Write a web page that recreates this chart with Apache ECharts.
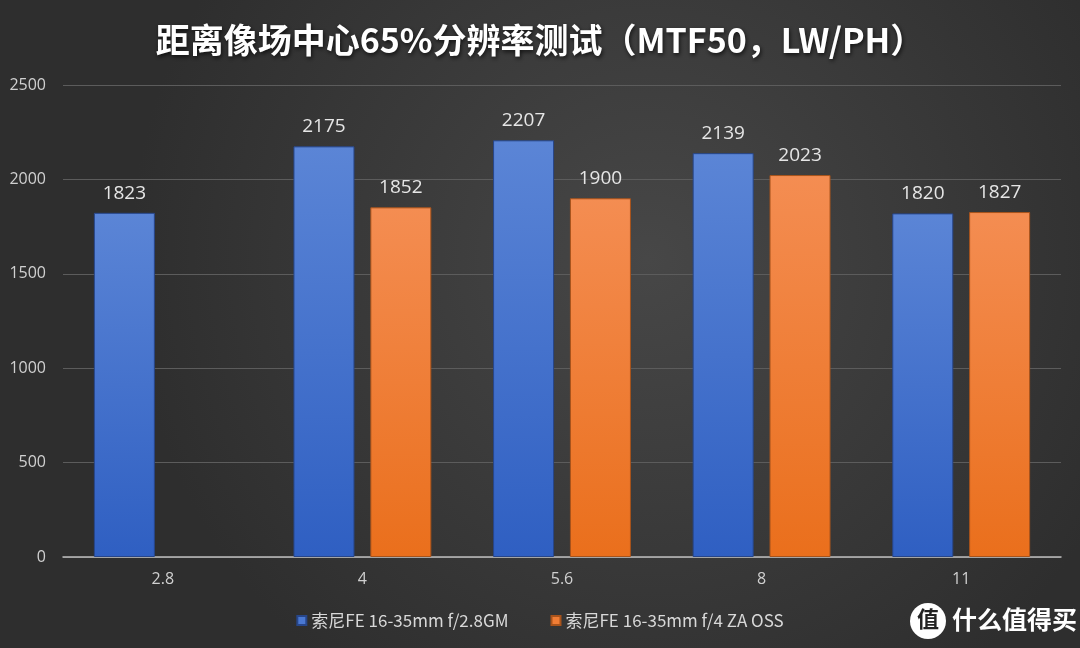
<!DOCTYPE html>
<html>
<head>
<meta charset="utf-8">
<script src="https://cdn.jsdelivr.net/npm/echarts@6/dist/echarts.min.js"></script>
<style>html,body{margin:0;padding:0;background:#3a3a3a}#c{width:1080px;height:648px}</style>
</head>
<body>
<div id="c"></div>
<script>
const titleText = '距离像场中心65%分辨率测试（MTF50，LW/PH）';
const categories = ['2.8', '4', '5.6', '8', '11'];
const seriesNames = ['索尼FE 16-35mm f/2.8GM', '索尼FE 16-35mm f/4 ZA OSS'];
const gmValues = [1823, 2175, 2207, 2139, 1820];
const zaValues = [null, 1852, 1900, 2023, 1827];
const yTicks = [0, 500, 1000, 1500, 2000, 2500];

const chart = echarts.init(document.getElementById('c'));
const font = '"Noto Sans CJK SC", "Open Sans", sans-serif';
const latin = '"Open Sans", "Noto Sans CJK SC", sans-serif';
const blue = new echarts.graphic.LinearGradient(0, 0, 0, 1, [
  {offset: 0, color: '#5b85d6'}, {offset: 1, color: '#2f5fc2'}]);
const orange = new echarts.graphic.LinearGradient(0, 0, 0, 1, [
  {offset: 0, color: '#f48d52'}, {offset: 1, color: '#ea6f1c'}]);

chart.setOption({
  backgroundColor: new echarts.graphic.RadialGradient(0.6, 0.4, 0.8, [
    {offset: 0, color: '#474747'}, {offset: 1, color: '#2e2e2e'}]),
  title: {
    text: titleText, left: 'center', top: 18,
    textStyle: {color: '#ffffff', fontSize: 34, fontWeight: 'bold', fontFamily: font,
      textShadowColor: 'rgba(0,0,0,0.7)', textShadowBlur: 4, textShadowOffsetX: 1, textShadowOffsetY: 2}
  },
  grid: {left: 63, right: 19, top: 85, bottom: 91},
  legend: {
    bottom: 14, left: 'center', itemGap: 42, itemWidth: 9, itemHeight: 9, icon: 'rect',
    textStyle: {color: '#d8d8d8', fontSize: 17, fontFamily: font},
    data: [{name: seriesNames[0], itemStyle: {color: '#4a78d2'}}, {name: seriesNames[1], itemStyle: {color: '#f07d35'}}]
  },
  xAxis: {
    type: 'category', data: categories,
    axisLine: {lineStyle: {color: '#bdbdbd', width: 1.5}},
    axisTick: {show: false},
    axisLabel: {color: '#d0d0d0', fontSize: 16, margin: 14, fontFamily: latin}
  },
  yAxis: {
    type: 'value', min: yTicks[0], max: yTicks[yTicks.length - 1], interval: 500,
    axisLine: {show: false}, axisTick: {show: false},
    axisLabel: {color: '#d0d0d0', fontSize: 16, margin: 17, fontFamily: latin, formatter: v => String(v)},
    splitLine: {lineStyle: {color: '#5c5c5c', width: 1}}
  },
  series: [
    {name: seriesNames[0], type: 'bar', data: gmValues, barWidth: 61, barGap: '26%',
      itemStyle: {color: blue, borderColor: '#27468a', borderWidth: 1},
      label: {show: true, position: 'top', distance: 10, color: '#e6e6e6', fontSize: 19, fontFamily: latin}},
    {name: seriesNames[1], type: 'bar', data: zaValues, barWidth: 61,
      itemStyle: {color: orange, borderColor: '#a8531b', borderWidth: 1},
      label: {show: true, position: 'top', distance: 10, color: '#e6e6e6', fontSize: 19, fontFamily: latin}}
  ],
  graphic: [
    {type: 'circle', shape: {cx: 928, cy: 621, r: 18}, style: {fill: '#ffffff'}},
    {type: 'text', left: 917, top: 608, style: {text: '值', fill: '#222', font: 'bold 22px ' + font}},
    {type: 'text', left: 952, top: 607, style: {text: '什么值得买', fill: '#ffffff', font: 'bold 25px ' + font}}
  ]
});
</script>
</body>
</html>
